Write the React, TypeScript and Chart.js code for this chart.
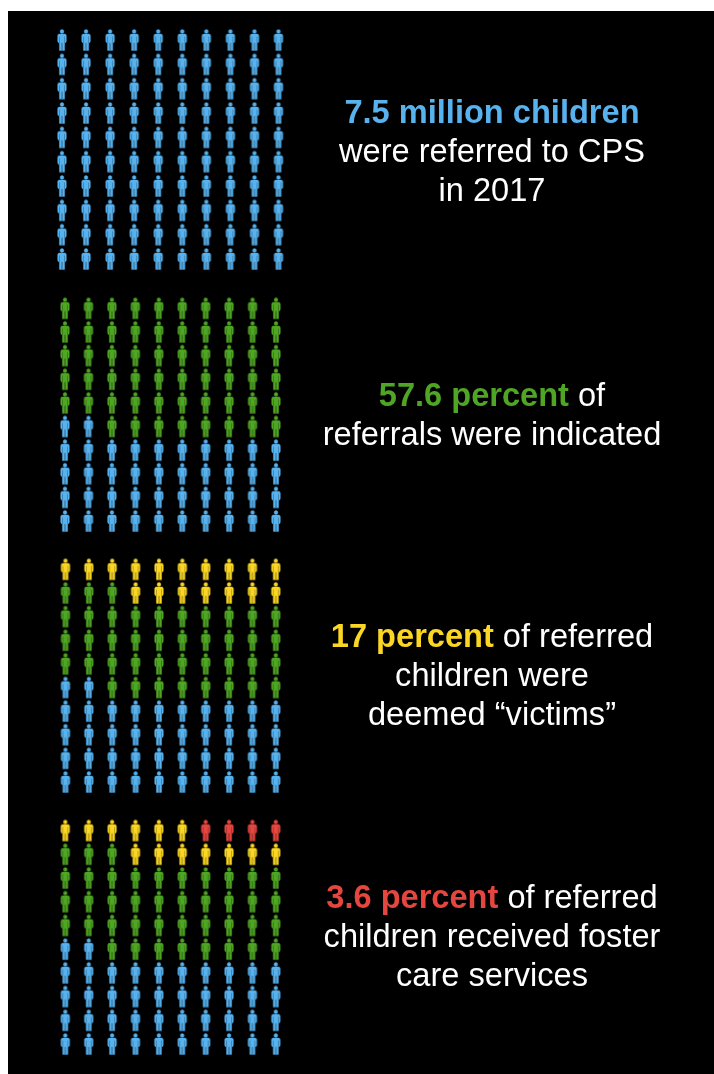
import React, { useEffect, useRef } from "react";
import { Chart, registerables } from "chart.js";

Chart.register(...registerables);

// Number of figures of each colour (out of 100), filled right-to-left, top-to-bottom
const seriesNames = ["Foster care", "Victims", "Indicated", "Referred"];
const fosterCounts = [0, 0, 0, 4];
const victimCounts = [0, 0, 17, 13];
const indicatedCounts = [0, 58, 41, 41];
const referredCounts = [100, 42, 42, 42];

const COLORS = ["#e5463f", "#fbd723", "#4fa524", "#58b2ee"];
const EDGES = ["#8c2b28", "#96801a", "#2f6316", "#2f6a92"];

const PANELS = [
  { x0: 62, x1: 278.5, y0: 40, y1: 259 },
  { x0: 65, x1: 276, y0: 308.3, y1: 521 },
  { x0: 65.5, x1: 275.8, y0: 569.3, y1: 782 },
  { x0: 65.3, x1: 275.8, y0: 830.5, y1: 1044 },
];

type Seg = { t: string; c: string; b?: boolean };
const W = "#ffffff";
const captions: { y: number; lines: Seg[][] }[] = [
  {
    y: 92,
    lines: [
      [{ t: "7.5 million children", c: COLORS[3], b: true }],
      [{ t: "were referred to CPS", c: W }],
      [{ t: "in 2017", c: W }],
    ],
  },
  {
    y: 375,
    lines: [
      [{ t: "57.6 percent", c: COLORS[2], b: true }, { t: " of", c: W }],
      [{ t: "referrals were indicated", c: W }],
    ],
  },
  {
    y: 616,
    lines: [
      [{ t: "17 percent", c: COLORS[1], b: true }, { t: " of referred", c: W }],
      [{ t: "children were", c: W }],
      [{ t: "deemed \u201Cvictims\u201D", c: W }],
    ],
  },
  {
    y: 877,
    lines: [
      [{ t: "3.6 percent", c: COLORS[0], b: true }, { t: " of referred", c: W }],
      [{ t: "children received foster", c: W }],
      [{ t: "care services", c: W }],
    ],
  },
];

function personIcon(fill: string, edge: string): HTMLCanvasElement {
  const c = document.createElement("canvas");
  c.width = 14;
  c.height = 24;
  const g = c.getContext("2d")!;
  g.translate(7, 1.6);
  const body = () => {
    g.beginPath();
    g.arc(0, 1.9, 1.9, 0, Math.PI * 2);
    g.closePath();
    g.roundRect(-4.3, 4.4, 8.6, 8.8, 1.6);
    g.rect(-2.6, 12, 2.4, 8.8);
    g.rect(0.2, 12, 2.4, 8.8);
  };
  (g as any).filter = "blur(0.3px)";
  g.strokeStyle = edge;
  g.lineWidth = 0.7;
  body();
  g.stroke();
  g.fillStyle = fill;
  body();
  g.fill();
  // slits that set the arms off from the torso
  g.lineWidth = 0.6;
  g.beginPath();
  g.moveTo(-2.5, 7);
  g.lineTo(-2.5, 13.2);
  g.moveTo(2.5, 7);
  g.lineTo(2.5, 13.2);
  g.moveTo(0, 13.5);
  g.lineTo(0, 20.8);
  g.stroke();
  return c;
}

function Panel({ index }: { index: number }) {
  const ref = useRef<HTMLCanvasElement>(null);
  const p = PANELS[index];
  const left = 40;
  const width = 260;
  const top = Math.floor(p.y0 - 16);
  const height = Math.ceil(p.y1 + 16) - top;

  useEffect(() => {
    const counts = [fosterCounts[index], victimCounts[index], indicatedCounts[index], referredCounts[index]];
    let seen = 0;
    const datasets = counts.map((n, s) => {
      const data: { x: number; y: number }[] = [];
      for (let k = 0; k < n; k++, seen++) {
        data.push({ x: 9 - (seen % 10), y: Math.floor(seen / 10) });
      }
      return {
        label: seriesNames[s],
        data,
        pointStyle: personIcon(COLORS[s], EDGES[s]) as any,
        clip: false as any,
      };
    });
    const chart = new Chart(ref.current!, {
      type: "scatter",
      data: { datasets },
      options: {
        animation: false,
        responsive: false,
        events: [],
        layout: {
          padding: {
            left: p.x0 - left,
            right: left + width - p.x1,
            top: p.y0 - top,
            bottom: top + height - p.y1,
          },
        },
        plugins: { legend: { display: false }, tooltip: { enabled: false } },
        scales: {
          x: { type: "linear", min: 0, max: 9, display: false },
          y: { type: "linear", min: 0, max: 9, reverse: true, display: false },
        },
      },
    });
    return () => chart.destroy();
  }, []);

  return (
    <canvas
      ref={ref}
      width={width}
      height={height}
      style={{ position: "absolute", left, top, width, height, display: "block" }}
    />
  );
}

export default function App() {
  return (
    <div style={{ position: "absolute", left: 0, top: 0, width: 714, height: 1074, overflow: "hidden", background: "#fff" }}>
      <div style={{ position: "absolute", left: 8, top: 11, right: 0, bottom: 0, background: "#000" }} />
      {PANELS.map((_, i) => (
        <Panel key={i} index={i} />
      ))}
      {captions.map((cap, i) => (
        <div
          key={i}
          style={{
            position: "absolute",
            left: 292,
            width: 400,
            top: cap.y,
            textAlign: "center",
            fontFamily: "'Liberation Sans', Arial, sans-serif",
            fontSize: 32.6,
            lineHeight: "39px",
          }}
        >
          {cap.lines.map((line, j) => (
            <div key={j}>
              {line.map((s, k) => (
                <span key={k} style={{ color: s.c, fontWeight: s.b ? 700 : 400, whiteSpace: "pre" }}>
                  {s.t}
                </span>
              ))}
            </div>
          ))}
        </div>
      ))}
    </div>
  );
}
